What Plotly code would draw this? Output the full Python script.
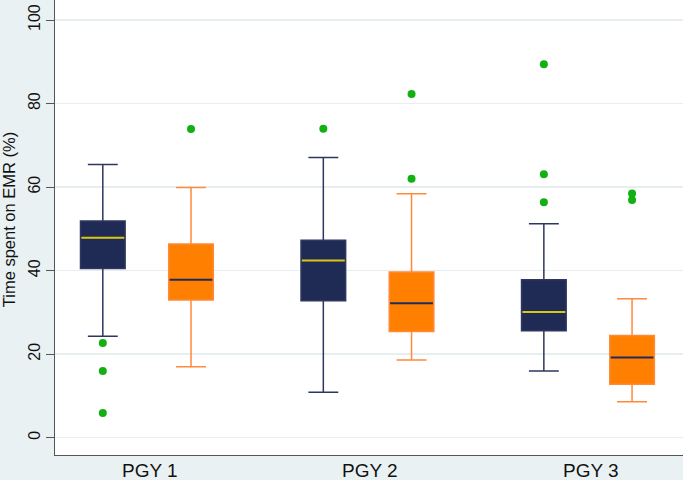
import plotly.graph_objects as go

# ---- data ----
groups = ["PGY 1", "PGY 2", "PGY 3"]
group_pos = [1, 2, 3]

navy_q1 = [40.5, 32.8, 25.6]
navy_median = [47.9, 42.4, 30.1]
navy_q3 = [51.9, 47.3, 37.8]
navy_low = [24.3, 10.9, 16.0]
navy_high = [65.4, 67.1, 51.2]
navy_out_group = [1, 1, 1, 2, 3, 3, 3]
navy_out_vals = [22.7, 16.0, 5.9, 74.0, 89.4, 63.1, 56.4]

orange_q1 = [33.0, 25.4, 12.8]
orange_median = [37.8, 32.2, 19.2]
orange_q3 = [46.4, 39.7, 24.5]
orange_low = [17.0, 18.6, 8.6]
orange_high = [59.9, 58.4, 33.3]
orange_out_group = [1, 2, 2, 3, 3]
orange_out_vals = [73.9, 82.3, 62.0, 58.5, 56.9]

y_ticks = [0, 20, 40, 60, 80, 100]

# ---- styling ----
OFFSET = 0.2
BOX_W = 0.2023
NAVY = "#1f2b55"
NAVY_LINE = "#2e3760"
ORANGE = "#ff7f00"
ORANGE_LINE = "#ff8a3a"
YELLOW = "#d8c814"
GREEN = "#12b012"
FONT = "Liberation Sans, Arial, sans-serif"
X_MIN, X_MAX = 0.5832, 3.431

navy_x = [g - OFFSET for g in group_pos]
orange_x = [g + OFFSET for g in group_pos]

fig = go.Figure()

fig.add_trace(go.Box(
    x=navy_x, q1=navy_q1, median=navy_median, q3=navy_q3,
    lowerfence=navy_low, upperfence=navy_high,
    width=BOX_W, whiskerwidth=0.67, boxpoints=False,
    fillcolor=NAVY, line=dict(color=NAVY_LINE, width=1.5),
    showlegend=False, hoverinfo="skip",
))
fig.add_trace(go.Box(
    x=orange_x, q1=orange_q1, median=orange_median, q3=orange_q3,
    lowerfence=orange_low, upperfence=orange_high,
    width=BOX_W, whiskerwidth=0.67, boxpoints=False,
    fillcolor=ORANGE, line=dict(color=ORANGE_LINE, width=1.5),
    showlegend=False, hoverinfo="skip",
))


def median_segments(xs, meds):
    sx, sy = [], []
    for x, m in zip(xs, meds):
        sx += [x - BOX_W / 2 + 0.004, x + BOX_W / 2 - 0.004, None]
        sy += [m, m, None]
    return sx, sy


mx, my = median_segments(navy_x, navy_median)
fig.add_trace(go.Scatter(x=mx, y=my, mode="lines",
                         line=dict(color=YELLOW, width=2),
                         showlegend=False, hoverinfo="skip"))
mx, my = median_segments(orange_x, orange_median)
fig.add_trace(go.Scatter(x=mx, y=my, mode="lines",
                         line=dict(color=NAVY, width=2),
                         showlegend=False, hoverinfo="skip"))

fig.add_trace(go.Scatter(
    x=[g - OFFSET for g in navy_out_group], y=navy_out_vals, mode="markers",
    marker=dict(color=GREEN, size=8), showlegend=False, hoverinfo="skip"))
fig.add_trace(go.Scatter(
    x=[g + OFFSET for g in orange_out_group], y=orange_out_vals, mode="markers",
    marker=dict(color=GREEN, size=8), showlegend=False, hoverinfo="skip"))

annotations = [dict(
    text="Time spent on EMR (%)", textangle=-90,
    xref="paper", yref="paper", x=-0.0732, y=0.516,
    xanchor="center", yanchor="middle", showarrow=False,
    font=dict(size=16.5, family=FONT, color="#111111"),
)]
for g, label in zip(group_pos, groups):
    annotations.append(dict(
        text=label, xref="x", yref="paper", x=g + 0.013, y=-0.006,
        xanchor="center", yanchor="top", showarrow=False,
        font=dict(size=19, family=FONT, color="#111111"),
    ))

fig.update_layout(
    width=683, height=480,
    margin=dict(l=55, r=0, t=0, b=25, autoexpand=False),
    paper_bgcolor="#eaf1f3",
    plot_bgcolor="white",
    font=dict(family=FONT, color="#111111"),
    xaxis=dict(
        range=[X_MIN, X_MAX], automargin=False,
        showticklabels=False, ticks="", showgrid=False, zeroline=False,
        showline=True, linecolor="#555555", linewidth=1,
    ),
    yaxis=dict(
        range=[-4.14, 104.8], automargin=False,
        tickmode="array", tickvals=y_ticks,
        ticks="outside", ticklen=8, tickcolor="#555555", tickwidth=1,
        tickangle=-90,
        showgrid=True, gridcolor="#e6eef0", gridwidth=1.5,
        zeroline=False,
        showline=True, linecolor="#555555", linewidth=1,
        tickfont=dict(size=16, family=FONT, color="#111111"),
    ),
    annotations=annotations,
)

fig.write_html(
    "out.html",
    config={"displayModeBar": False, "staticPlot": True},
    post_script="document.body.style.margin='0';document.body.style.background='#eaf1f3';",
)
